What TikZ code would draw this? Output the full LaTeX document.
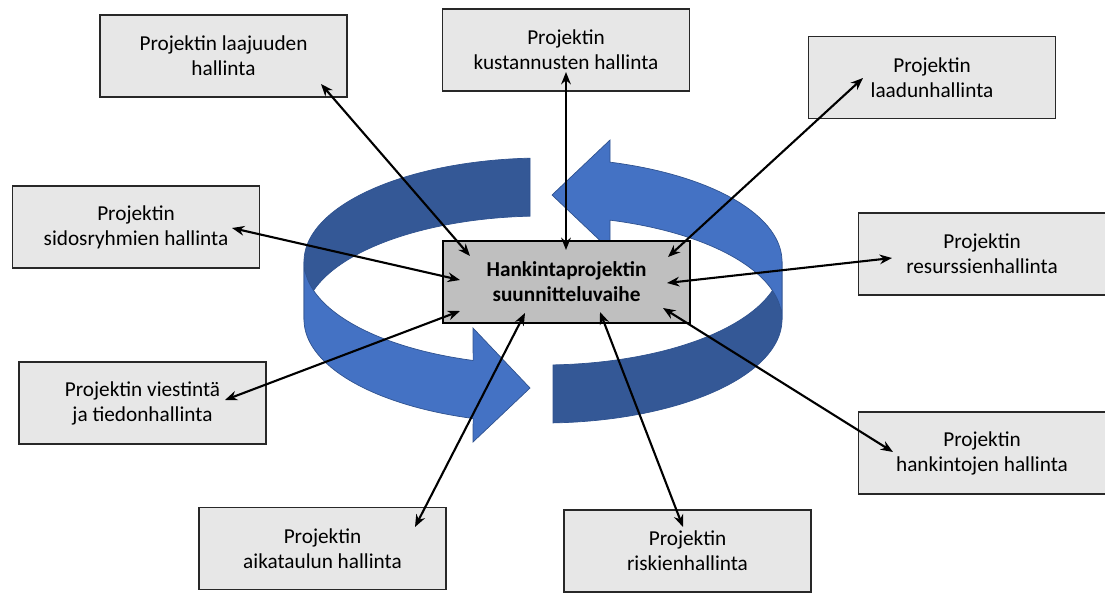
\documentclass[tikz,border=0pt]{standalone}
\usepackage{fontspec}
\setmainfont{Carlito}
\usetikzlibrary{arrows.meta}
\definecolor{ringdark}{RGB}{52,88,150}
\definecolor{ringlight}{RGB}{68,114,196}
\definecolor{ringedge}{RGB}{47,82,143}
\definecolor{boxgray}{RGB}{231,231,231}
\definecolor{boxline}{RGB}{40,40,40}
\definecolor{maingray}{RGB}{191,191,191}

\begin{document}
\begin{tikzpicture}[x=0.02cm,y=-0.02cm]
        % Styles
        \tikzstyle{area}=[draw=boxline,line width=0.8pt,fill=boxgray,minimum width=4.94cm,minimum height=1.64cm,align=center,inner sep=2pt,font=\fontsize{12.1}{14.2}\selectfont]
        \tikzstyle{phase}=[area,draw=black,fill=maingray,font=\fontsize{12.1}{14.2}\selectfont\bfseries]
        \tikzstyle{link}=[{Stealth[length=7pt,width=5.5pt]}-{Stealth[length=7pt,width=5.5pt]},line width=1.2pt]
        \tikzstyle{ring}=[draw=ringedge,line width=0.4pt]
        \useasboundingbox (0,0) rectangle (1105,592);
        %the ring, dark halves first
        \path[ring,fill=ringdark] plot[domain=266.9:180,samples=60] ({543+239*cos(\x)},{261.5+103.5*sin(\x)})
            -- plot[domain=180:266.9,samples=60] ({543+239*cos(\x)},{319.5+103.5*sin(\x)}) -- cycle;
        \path[ring,fill=ringdark] plot[domain=87.6:0,samples=60] ({543+239*cos(\x)},{261.5+103.5*sin(\x)})
            -- plot[domain=0:87.6,samples=60] ({543+239*cos(\x)},{319.5+103.5*sin(\x)}) -- cycle;
        %light halves with the heads
        \path[ring,fill=ringlight] plot[domain=180:107,samples=60] ({543+239*cos(\x)},{261.5+103.5*sin(\x)})
            -- (473,328) -- (530,388) -- (473,442)
            -- plot[domain=107:180,samples=60] ({543+239*cos(\x)},{319.5+103.5*sin(\x)}) -- cycle;
        \path[ring,fill=ringlight] plot[domain=360:286.3,samples=60] ({543+239*cos(\x)},{261.5+103.5*sin(\x)})
            -- (610,140) -- (552,195) -- (610,250)
            -- plot[domain=286.3:360,samples=60] ({543+239*cos(\x)},{319.5+103.5*sin(\x)}) -- cycle;
        %boxes
        \node[phase] (plan) at (566.5,282) {Hankintaprojektin\\suunnitteluvaihe};
        \node[area] (laajuus) at (223.5,56) {Projektin laajuuden\\hallinta};
        \node[area] (kustannus) at (566,50) {Projektin\\kustannusten hallinta};
        \node[area] (laatu) at (932,77.5) {Projektin\\laadunhallinta};
        \node[area] (sidos) at (136,227) {Projektin\\sidosryhmien hallinta};
        \node[area] (resurssi) at (982,254) {Projektin\\resurssienhallinta};
        \node[area] (viestinta) at (142.5,403) {Projektin viestintä\\ja tiedonhallinta};
        \node[area] (hankinnat) at (982,453) {Projektin\\hankintojen hallinta};
        \node[area] (aikataulu) at (322.5,548.5) {Projektin\\aikataulun hallinta};
        \node[area] (riskit) at (687.5,551) {Projektin\\riskienhallinta};
        %arrow ends
        \coordinate (laajuus-a) at (321,84);   \coordinate (laajuus-b) at (470,256);
        \coordinate (kustannus-a) at (566,72); \coordinate (kustannus-b) at (566,250);
        \coordinate (laatu-a) at (863,78);     \coordinate (laatu-b) at (668,257);
        \coordinate (sidos-a) at (232,228);    \coordinate (sidos-b) at (460,280);
        \coordinate (resurssi-a) at (892,258); \coordinate (resurssi-b) at (667,283);
        \coordinate (viestinta-a) at (225,400); \coordinate (viestinta-b) at (460,311);
        \coordinate (hankinnat-a) at (893,452); \coordinate (hankinnat-b) at (663,308);
        \coordinate (aikataulu-a) at (415,527); \coordinate (aikataulu-b) at (525,313);
        \coordinate (riskit-a) at (683,527);   \coordinate (riskit-b) at (600,312);
        %arrows
        \foreach \n in {laajuus,kustannus,laatu,sidos,resurssi,viestinta,hankinnat,aikataulu,riskit}
            \draw[link] (\n-a) -- (\n-b);
\end{tikzpicture}
\end{document}
